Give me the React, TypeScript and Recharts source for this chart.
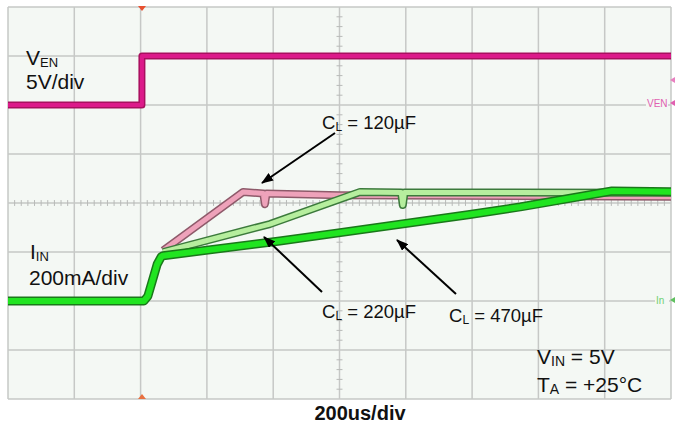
import React from 'react';
import { ComposedChart, Line, XAxis, YAxis, ReferenceLine, ReferenceArea } from 'recharts';

// time in us (200us/div, 10 div), VEN in V (5V/div), IIN in mA (200mA/div)
const TIME_GRID = [0, 200, 400, 600, 800, 1000, 1200, 1400, 1600, 1800, 2000];
const IIN_GRID = [-400, -200, 0, 200, 400, 600, 800, 1000, 1200];
const MINOR_T = [20, 40, 60, 80, 100, 120, 140, 160, 180];
const MINOR_I = [40, 80, 120, 160];

const venT = [0, 404, 404, 2000];
const venV = [0, 0, 5, 5];

// common start + CL = 470uF
const i470T = [0, 410, 422, 436, 450, 462, 468, 820, 986, 1388, 1545, 1822, 2000];
const i470mA = [0, 0, 20, 85, 150, 180, 185, 245, 276, 352, 384, 449, 446];

const i220T = [468, 790, 1062, 1186, 1191, 1196, 2000];
const i220mA = [200, 314, 445, 443, 392, 443, 442];

const i120T = [468, 709, 770, 775, 780, 1000, 2000];
const i120mA = [206, 445, 439, 395, 439, 432, 425];

const zip = (ts: number[], vs: number[]) => ts.map((t, i) => ({ t, v: vs[i] }));

const ven = zip(venT, venV);
const c470 = zip(i470T, i470mA);
const c220 = zip(i220T, i220mA);
const c120 = zip(i120T, i120mA);

const FONT = '"Liberation Sans", Arial, sans-serif';

const trace = (key: string, data: any[], axis: string, outer: string, inner: string, w: number) => [
  <Line key={key + 'o'} data={data} dataKey="v" yAxisId={axis} type="linear" dot={false}
    stroke={outer} strokeWidth={w} strokeLinejoin="round" isAnimationActive={false} />,
  <Line key={key + 'i'} data={data} dataKey="v" yAxisId={axis} type="linear" dot={false}
    stroke={inner} strokeWidth={w - 3} strokeLinejoin="round" isAnimationActive={false} />,
];

const SubText = ({ x, y, main, sub, rest, size = 21, subSize = 13 }: any) => (
  <text x={x} y={y} fontFamily={FONT} fontSize={size} fill="#111">
    {main}
    <tspan fontSize={subSize} dy={2}>{sub}</tspan>
    {rest ? <tspan dy={-2}>{rest}</tspan> : null}
  </text>
);

export default function App() {
  return (
    <div style={{ position: 'absolute', left: 0, top: 0, width: 675, height: 425, background: '#fff' }}>
      <ComposedChart width={675} height={425} margin={{ top: 7, right: 4, bottom: 26, left: 8 }}>
        <XAxis dataKey="t" type="number" domain={[0, 2000]} hide allowDataOverflow />
        <YAxis yAxisId="iin" type="number" domain={[-400, 1200]} hide allowDataOverflow />
        <YAxis yAxisId="ven" type="number" domain={[-30, 10]} hide allowDataOverflow />
        <ReferenceArea yAxisId="iin" x1={0} x2={2000} y1={-400} y2={1200} fill="#f4f8f4" fillOpacity={1} stroke="none" />
        {TIME_GRID.map((t) => (
          <ReferenceLine key={'vx' + t} yAxisId="iin" x={t} stroke="#c6c8c6" strokeWidth={1.5} />
        ))}
        {IIN_GRID.map((v) => (
          <ReferenceLine key={'hy' + v} yAxisId="iin" y={v} stroke="#c6c8c6" strokeWidth={1.5} />
        ))}
        {TIME_GRID.slice(0, 10).flatMap((t) =>
          MINOR_T.map((m) => (
            <ReferenceLine key={'mt' + t + m} yAxisId="iin" stroke="#b8bab8" strokeWidth={1}
              segment={[{ x: t + m, y: 388 }, { x: t + m, y: 412 }]} />
          ))
        )}
        {IIN_GRID.slice(0, 8).flatMap((v) =>
          MINOR_I.map((m) => (
            <ReferenceLine key={'mi' + v + m} yAxisId="iin" stroke="#b8bab8" strokeWidth={1}
              segment={[{ x: 991, y: v + m }, { x: 1009, y: v + m }]} />
          ))
        )}
        {trace('ven', ven, 'ven', '#a8105f', '#dc1a8a', 7)}
        {trace('c120', c120, 'iin', '#8e5a6a', '#eea2ba', 8)}
        {trace('c220', c220, 'iin', '#3c7a3c', '#b6ee9e', 8)}
        {trace('c470', c470, 'iin', '#1a781a', '#20e420', 9)}
      </ComposedChart>
      <svg width={675} height={425} style={{ position: 'absolute', left: 0, top: 0, pointerEvents: 'none' }}>
        <defs>
          <marker id="ah" markerWidth={12} markerHeight={9} refX={11} refY={4.5} orient="auto" markerUnits="userSpaceOnUse">
            <path d="M0,0 L12,4.5 L0,9 z" fill="#000" />
          </marker>
        </defs>
        <rect x={646} y={97} width={22} height={12} fill="#f4f8f4" />
        <text x={647} y={107} fontFamily={FONT} fontSize={10} fill="#e060b0">VEN</text>
        <path d="M670,103 L675,100 L675,106 z" fill="#e060b0" />
        <path d="M670,80 L675,77 L675,83 z" fill="#e880c0" />
        <rect x={655} y={294} width={14} height={12} fill="#f4f8f4" />
        <text x={656} y={304} fontFamily={FONT} fontSize={10} fill="#70d070">In</text>
        <path d="M670,300 L675,297 L675,303 z" fill="#60c060" />
        <path d="M138,6 L146,6 L142,11 z" fill="#e85030" />
        <path d="M138,399 L146,399 L142,394 z" fill="#e87040" />

        <SubText x={26} y={65} main="V" sub="EN" />
        <text x={26} y={89} fontFamily={FONT} fontSize={21} fill="#111">5V/div</text>
        <SubText x={30} y={259} main="I" sub="IN" />
        <text x={29} y={285} fontFamily={FONT} fontSize={21} fill="#111">200mA/div</text>

        <SubText x={322} y={129} main="C" sub="L" rest=" = 120µF" size={18.5} subSize={12} />
        <SubText x={322} y={318} main="C" sub="L" rest=" = 220µF" size={18.5} subSize={12} />
        <SubText x={449} y={322} main="C" sub="L" rest=" = 470µF" size={18.5} subSize={12} />
        <SubText x={537} y={364} main="V" sub="IN" rest=" = 5V" size={21} subSize={14} />
        <SubText x={537} y={392} main="T" sub="A" rest=" = +25°C" size={21} subSize={14} />
        <text x={360} y={420} textAnchor="middle" fontFamily={FONT} fontSize={20} fontWeight="bold" fill="#111">200us/div</text>

        <line x1={335} y1={133} x2={262} y2={183} stroke="#000" strokeWidth={2} markerEnd="url(#ah)" />
        <line x1={322} y1={292} x2={264} y2={237} stroke="#000" strokeWidth={2} markerEnd="url(#ah)" />
        <line x1={456} y1={294} x2={397} y2={240} stroke="#000" strokeWidth={2} markerEnd="url(#ah)" />
      </svg>
    </div>
  );
}
